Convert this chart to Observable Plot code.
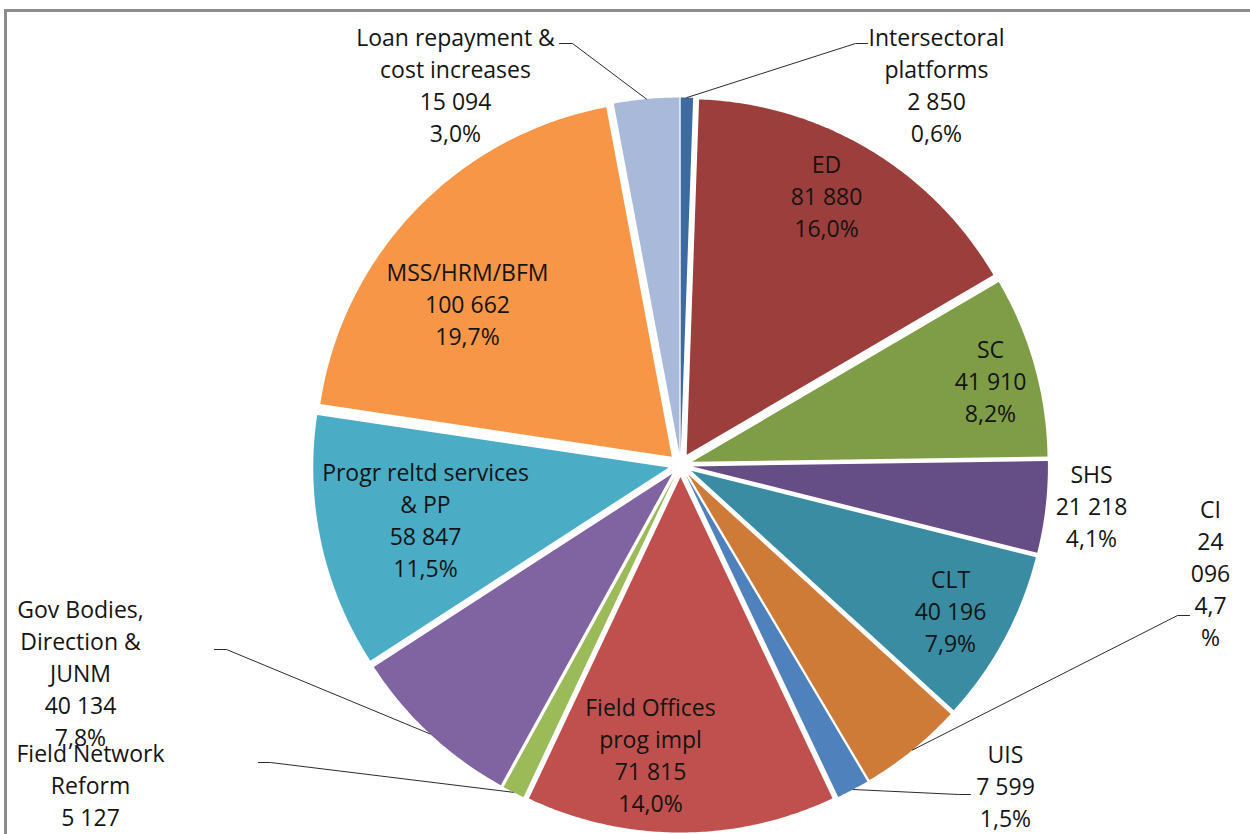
<!DOCTYPE html>
<html>
<head>
<meta charset="utf-8">
<script src="https://cdn.jsdelivr.net/npm/d3@7"></script>
<script src="https://cdn.jsdelivr.net/npm/@observablehq/plot@0.6"></script>
<style>
  body { margin: 0; background: #fff; }
  #chart { position: absolute; left: 0; top: 0; }
  #frame { position: absolute; left: 4px; top: 9px; width: 2000px; height: 2000px;
           border-left: 3px solid #8c8c8c; border-top: 3px solid #8c8c8c; pointer-events: none; }
</style>
</head>
<body>
<div id="chart"></div>
<div id="frame"></div>
<script>
// ---- Data ----
const categories = [
  "Intersectoral platforms", "ED", "SC", "SHS", "CLT", "CI", "UIS",
  "Field Offices prog impl", "Field Network Reform", "Gov Bodies, Direction & JUNM",
  "Progr reltd services & PP", "MSS/HRM/BFM", "Loan repayment & cost increases"
];
const values = [2850, 81880, 41910, 21218, 40196, 24096, 7599, 71815, 5127, 40134, 58847, 100662, 15094];
const displayNames = [
  "Intersectoral\nplatforms", "ED", "SC", "SHS", "CLT", "CI", "UIS",
  "Field Offices\nprog impl", "Field Network\nReform", "Gov Bodies,\nDirection &\nJUNM",
  "Progr reltd services\n& PP", "MSS/HRM/BFM", "Loan repayment &\ncost increases"
];
const colors = [
  "#3d6ba1", "#9b3e3c", "#7f9c47", "#654d85", "#3a8ca3", "#ce7b38", "#4f81bd",
  "#c0504d", "#9bbb59", "#8064a2", "#4bacc6", "#f79646", "#a8b9d9"
];

// ---- Layout (label placement, leader elbows) ----
const geom = { cx: 680, cy: 464.5, R: 355.5, explode: 12 };
const labelLayout = [
  { cat: "Intersectoral platforms", lx: 936, ly: 86, elbow: [855, 43], end: [867, 43] },
  { cat: "ED", lx: 826, ly: 197 },
  { cat: "SC", lx: 990, ly: 382 },
  { cat: "SHS", lx: 1091, ly: 507 },
  { cat: "CLT", lx: 950, ly: 612 },
  { cat: "CI", lx: 1210, ly: 574, narrow: true, elbow: [1177, 615], end: [1189, 615] },
  { cat: "UIS", lx: 1005, ly: 787, elbow: [958, 794], end: [970, 794] },
  { cat: "Field Offices prog impl", lx: 650, ly: 756 },
  { cat: "Field Network Reform", lx: 90, ly: 802, elbow: [270, 762], end: [258, 762] },
  { cat: "Gov Bodies, Direction & JUNM", lx: 80, ly: 674, elbow: [226, 649], end: [214, 649] },
  { cat: "Progr reltd services & PP", lx: 425, ly: 521 },
  { cat: "MSS/HRM/BFM", lx: 467, ly: 305 },
  { cat: "Loan repayment & cost increases", lx: 455, ly: 86, elbow: [572, 43], end: [559, 43] }
];

// ---- Derived ----
const total = d3.sum(values);
const fmtNum = v => d3.format(",")(v).replace(/,/g, " ");
const fmtPct = v => (v / total * 100).toFixed(1).replace(".", ",") + "%";
const arcs = d3.pie().sort(null).value(d => d)(values);

const slicePoints = [];
const sliceInfo = arcs.map((a, i) => {
  const mid = (a.startAngle + a.endAngle) / 2;
  const ox = geom.cx + geom.explode * Math.sin(mid);
  const oy = geom.cy - geom.explode * Math.cos(mid);
  const cat = categories[i];
  slicePoints.push({ cat, x: ox, y: oy });
  const n = Math.max(2, Math.ceil((a.endAngle - a.startAngle) / (Math.PI / 360)));
  for (let k = 0; k <= n; k++) {
    const t = a.startAngle + (a.endAngle - a.startAngle) * k / n;
    slicePoints.push({ cat, x: ox + geom.R * Math.sin(t), y: oy - geom.R * Math.cos(t) });
  }
  return { cat, mid, edge: [ox + geom.R * Math.sin(mid), oy - geom.R * Math.cos(mid)] };
});

const labels = labelLayout.map(l => {
  const i = categories.indexOf(l.cat);
  let text = displayNames[i] + "\n" + fmtNum(values[i]) + "\n" + fmtPct(values[i]);
  if (l.narrow) {
    const p = fmtPct(values[i]);
    text = displayNames[i] + "\n" + fmtNum(values[i]).replace(" ", "\n") + "\n" + p.replace("%", "\n%");
  }
  return { x: l.lx, y: l.ly, text };
});

const leaders = [];
labelLayout.filter(l => l.elbow).forEach(l => {
  const s = sliceInfo.find(d => d.cat === l.cat);
  leaders.push({ cat: l.cat, x: s.edge[0], y: s.edge[1] });
  leaders.push({ cat: l.cat, x: l.elbow[0], y: l.elbow[1] });
  leaders.push({ cat: l.cat, x: l.end[0], y: l.end[1] });
});

const chart = Plot.plot({
  width: 1250,
  height: 834,
  margin: 0,
  style: { background: "transparent", overflow: "visible" },
  x: { domain: [0, 1250], range: [0, 1250], axis: null },
  y: { domain: [0, 834], range: [0, 834], axis: null },
  color: { domain: categories, range: colors },
  marks: [
    Plot.line(slicePoints, { x: "x", y: "y", z: "cat", fill: "cat", stroke: "none", curve: "linear-closed" }),
    Plot.line(leaders, { x: "x", y: "y", z: "cat", stroke: "#2b2b2b", strokeWidth: 1 }),
    Plot.text(labels, {
      x: "x", y: "y", text: "text", lineAnchor: "middle", textAnchor: "middle", dy: -3,
      fontSize: 23, lineHeight: 1.391, fill: "#141414", fontFamily: "Open Sans"
    })
  ]
});
document.getElementById("chart").appendChild(chart);
</script>
</body>
</html>
